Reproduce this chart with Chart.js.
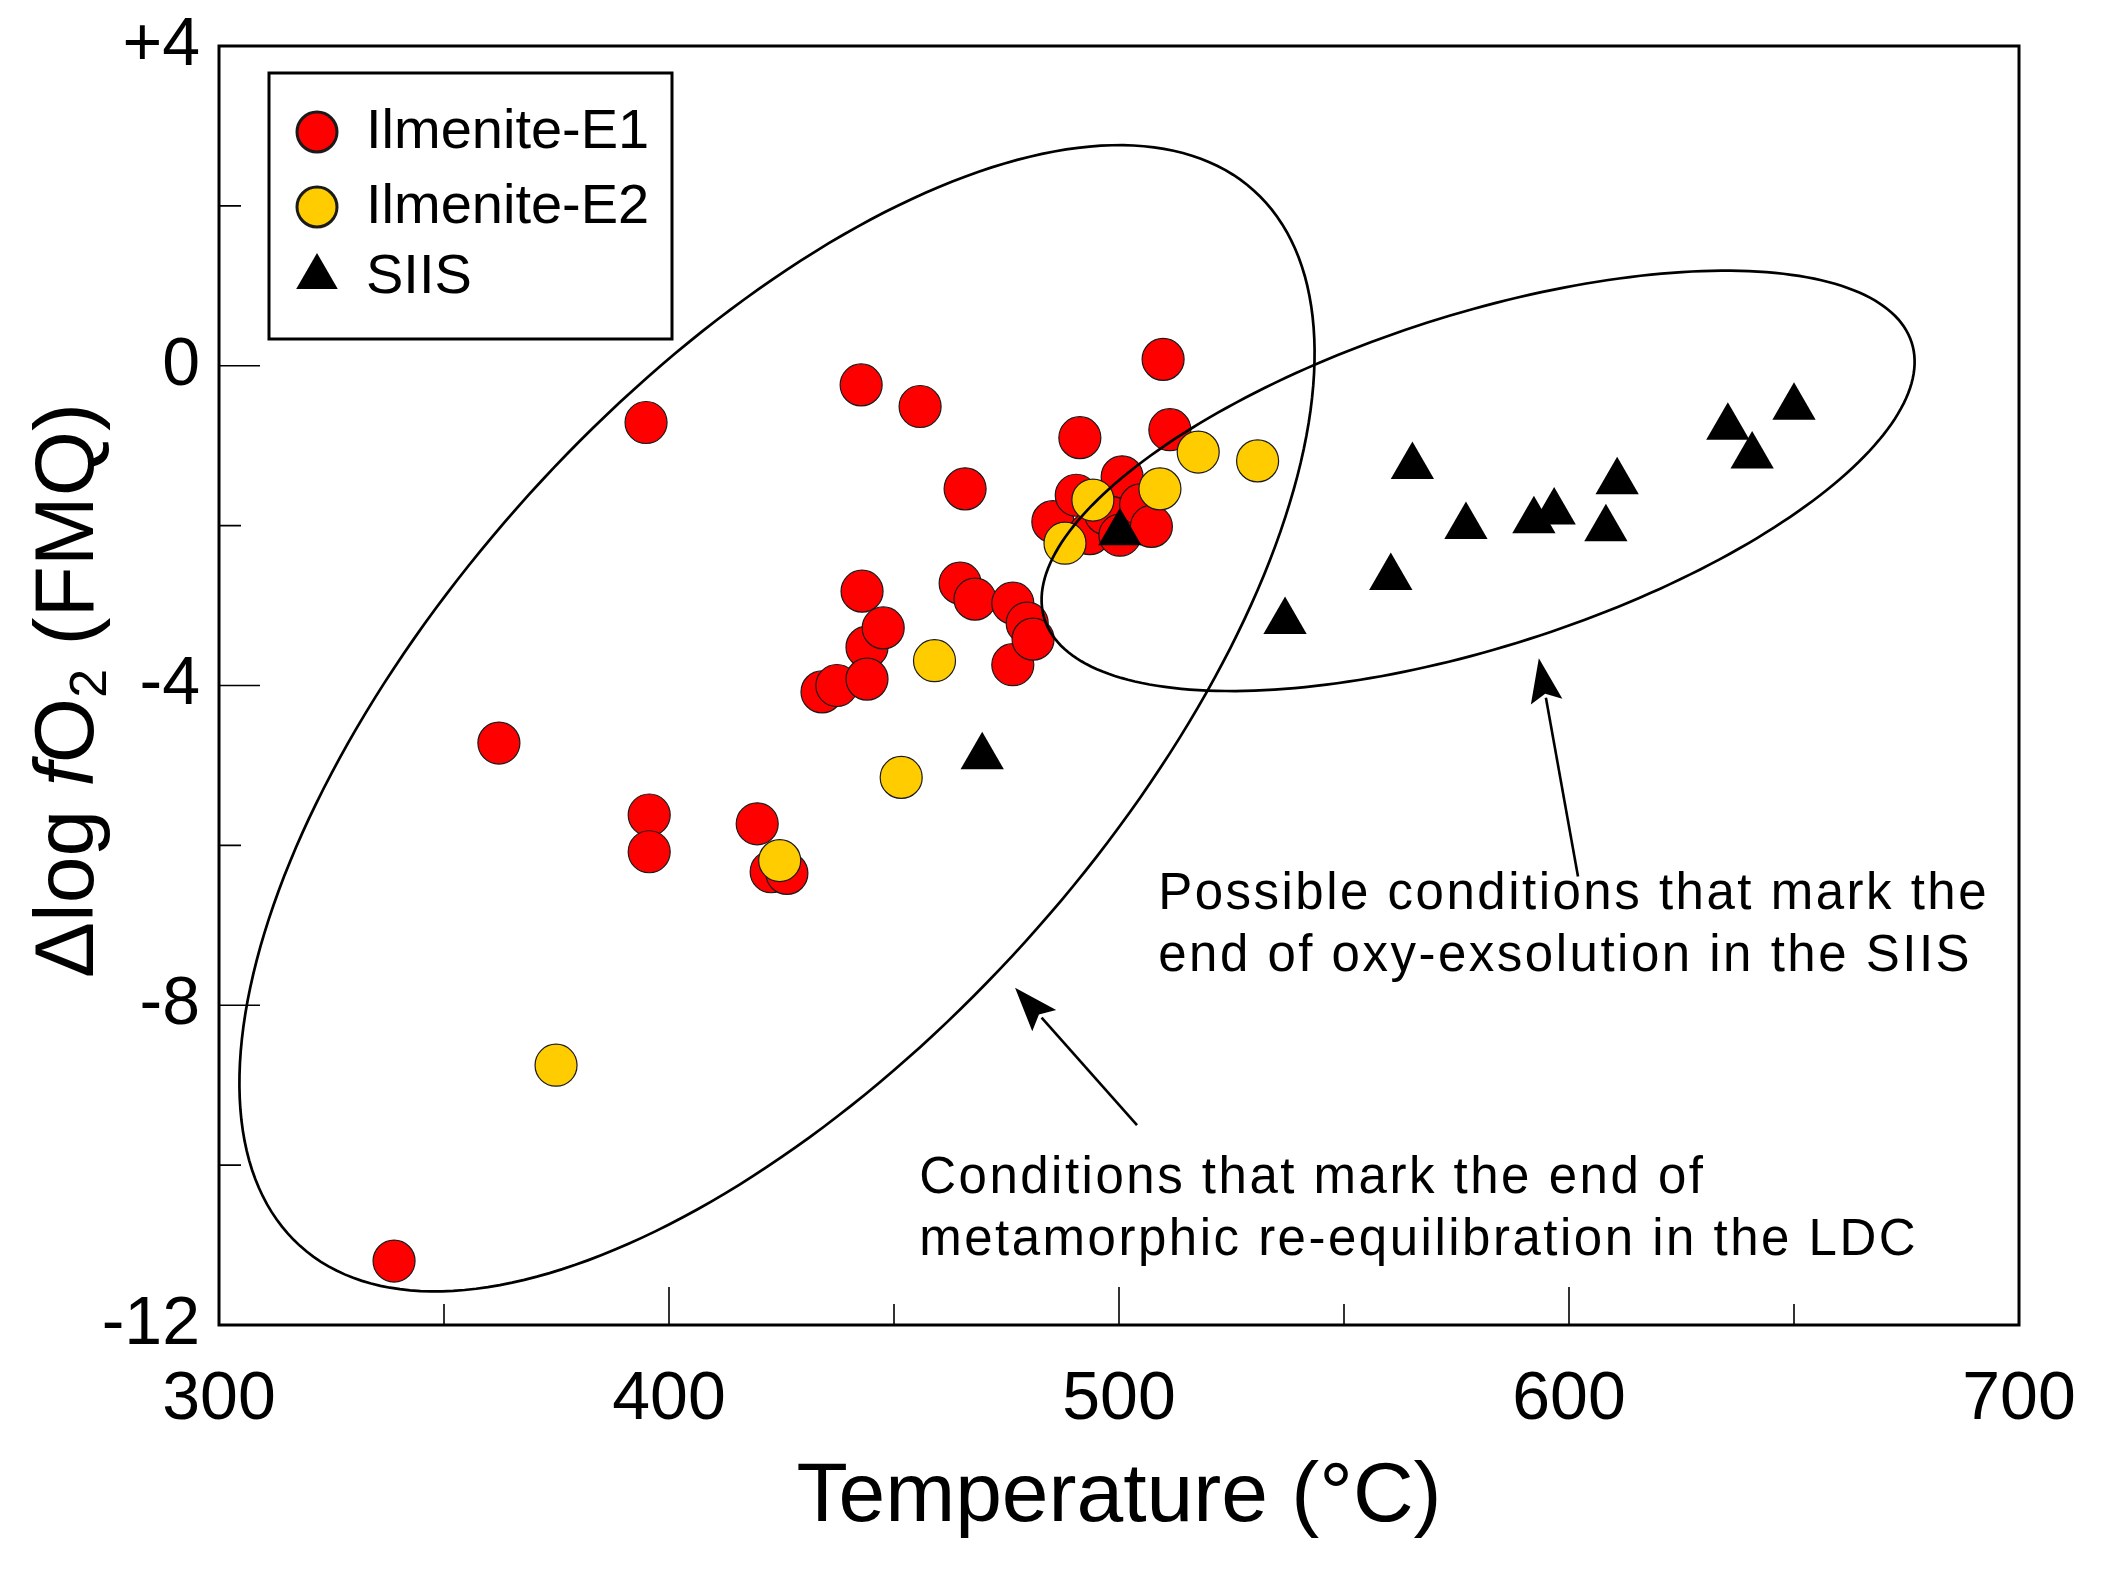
<!DOCTYPE html>
<html>
<head>
<meta charset="utf-8">
<script src="https://cdn.jsdelivr.net/npm/chart.js@4.4.1/dist/chart.umd.min.js"></script>
<style>
  html, body { margin: 0; padding: 0; background: #fff; }
  #wrap { width: 2104px; height: 1576px; }
</style>
</head>
<body>
<div id="wrap"><canvas id="fo2Graph"></canvas></div>
<script>

const seriesNames = ['Ilmenite-E1', 'Ilmenite-E2', 'SIIS'];

// Ilmenite-E1 : temperature (°C) / Δlog fO2 (FMQ)
const e1Temp = [338.9, 362.2, 394.9, 395.6, 395.6, 419.6, 422.7, 426.2, 434.0, 437.3,
                442.7, 442.9, 444.0, 444.0, 447.6, 455.8, 464.7, 465.8, 468.0, 476.4,
                476.4, 479.6, 480.9, 485.3, 490.5, 491.3, 493.5, 497.0, 500.2, 500.7,
                504.8, 507.2, 509.8, 511.3];
const e1Fo2 = [-11.2, -4.72, -0.71, -5.62, -6.08, -5.73, -6.33, -6.35, -4.08, -4.0,
               -0.24, -2.82, -3.52, -3.92, -3.28, -0.51, -2.72, -1.54, -2.92, -2.97,
               -3.74, -3.22, -3.42, -1.95, -1.62, -0.9, -2.1, -1.85, -2.12, -1.39,
               -1.74, -2.01, 0.08, -0.8];

// Ilmenite-E2
const e2Temp = [374.9, 424.6, 451.6, 459.0, 488.0, 494.2, 509.1, 517.6, 530.8];
const e2Fo2 = [-8.75, -6.19, -5.15, -3.69, -2.22, -1.68, -1.54, -1.08, -1.19];

// SIIS
const siisTemp = [469.6, 500.2, 536.9, 560.4, 565.2, 577.1, 592.2, 596.7, 608.2, 610.7, 635.3, 640.7, 650.0];
const siisFo2 = [-4.89, -2.09, -3.2, -2.65, -1.26, -2.01, -1.94, -1.83, -2.04, -1.45, -0.77, -1.13, -0.52];

const FONT = '"Liberation Sans", Arial, sans-serif';

function toPoints(xs, ys) {
    return xs.map((v, i) => ({x: v, y: ys[i]}));
}

// fields drawn as ellipses: centre + two semi-axis vectors, in data units
const fields = [
    {c: [424.0, -4.41], u: [106.0, 6.60], v: [55.1, -2.80]},
    {c: [579.8, -1.44], u: [96.35, 1.73], v: [11.25, -1.98]}
];

const notes = [
    {at: [508.7, -6.62], lines: ['Possible conditions that mark the', 'end of oxy-exsolution in the SIIS'],
     arrow: [[602.0, -6.39], [593.3, -3.66]]},
    {at: [455.6, -10.17], lines: ['Conditions that mark the end of', 'metamorphic re-equilibration in the LDC'],
     arrow: [[504.0, -9.5], [476.9, -7.78]]}
];

const overlay = {
    id: 'overlay',
    afterDatasetsDraw(chart) {
        const ctx = chart.ctx;
        const x = chart.scales.x, y = chart.scales.y;
        ctx.save();
        ctx.strokeStyle = '#000';
        ctx.lineWidth = 2.7;
        fields.forEach(e => {
            ctx.beginPath();
            for (let i = 0; i <= 240; i++) {
                const t = i / 240 * Math.PI * 2;
                const px = x.getPixelForValue(e.c[0] + Math.cos(t) * e.u[0] + Math.sin(t) * e.v[0]);
                const py = y.getPixelForValue(e.c[1] + Math.cos(t) * e.u[1] + Math.sin(t) * e.v[1]);
                if (i === 0) ctx.moveTo(px, py); else ctx.lineTo(px, py);
            }
            ctx.closePath();
            ctx.stroke();
        });

        // notes + arrows
        ctx.fillStyle = '#000';
        ctx.font = '51px ' + FONT;
        ctx.letterSpacing = '2.5px';
        ctx.textBaseline = 'middle';
        ctx.textAlign = 'left';
        notes.forEach(n => {
            const tx = x.getPixelForValue(n.at[0]);
            const ty = y.getPixelForValue(n.at[1]);
            n.lines.forEach((s, i) => ctx.fillText(s, tx, ty + i * 62));

            const x0 = x.getPixelForValue(n.arrow[0][0]), y0 = y.getPixelForValue(n.arrow[0][1]);
            const x1 = x.getPixelForValue(n.arrow[1][0]), y1 = y.getPixelForValue(n.arrow[1][1]);
            const ang = Math.atan2(y1 - y0, x1 - x0);
            const hl = 44, hw = 16;
            const bx = x1 - Math.cos(ang) * hl, by = y1 - Math.sin(ang) * hl;
            ctx.lineWidth = 2.6;
            ctx.beginPath();
            ctx.moveTo(x0, y0);
            ctx.lineTo(bx + Math.cos(ang) * 4, by + Math.sin(ang) * 4);
            ctx.stroke();
            ctx.beginPath();
            ctx.moveTo(x1, y1);
            ctx.lineTo(bx + Math.sin(ang) * hw, by - Math.cos(ang) * hw);
            ctx.lineTo(bx + Math.cos(ang) * 8, by + Math.sin(ang) * 8);
            ctx.lineTo(bx - Math.sin(ang) * hw, by + Math.cos(ang) * hw);
            ctx.closePath();
            ctx.fill();
        });
        ctx.letterSpacing = '0px';
        ctx.restore();
    },
    afterDraw(chart) {
        const ctx = chart.ctx;
        const a = chart.chartArea;
        const x = chart.scales.x, y = chart.scales.y;
        ctx.save();

        // frame
        ctx.strokeStyle = '#000';
        ctx.lineWidth = 3;
        ctx.strokeRect(a.left, a.top, a.right - a.left, a.bottom - a.top);

        // inward ticks
        ctx.lineWidth = 1.6;
        ctx.beginPath();
        x.ticks.forEach(t => {
            const px = x.getPixelForValue(t.value);
            const len = t.value % 100 === 0 ? 38 : 21;
            ctx.moveTo(px, a.bottom);
            ctx.lineTo(px, a.bottom - len);
        });
        y.ticks.forEach(t => {
            const py = y.getPixelForValue(t.value);
            const len = t.value % 4 === 0 ? 41 : 22;
            ctx.moveTo(a.left, py);
            ctx.lineTo(a.left + len, py);
        });
        ctx.stroke();

        // legend box
        const lx = a.left + 50, ly = a.top + 27;
        ctx.fillStyle = '#fff';
        ctx.fillRect(lx, ly, 403, 266);
        ctx.lineWidth = 3;
        ctx.strokeRect(lx, ly, 403, 266);
        const rowY = [59, 134, 204];
        ctx.font = '56px ' + FONT;
        ctx.textBaseline = 'middle';
        ctx.textAlign = 'left';
        chart.data.datasets.forEach((ds, i) => {
            const cy = ly + rowY[i];
            ctx.fillStyle = ds.backgroundColor;
            ctx.strokeStyle = ds.borderColor;
            Chart.helpers.drawPoint(ctx, {
                pointStyle: ds.pointStyle,
                radius: ds.pointStyle === 'triangle' ? 24 : 20,
                rotation: 0,
                borderWidth: ds.borderWidth
            }, lx + 48, cy);
            ctx.fillStyle = '#000';
            ctx.fillText(ds.label, lx + 97, cy + 1);
        });

        // y title: Δlog fO2 (FMQ)
        ctx.translate(70, (a.top + a.bottom) / 2 + 5);
        ctx.rotate(-Math.PI / 2);
        const big = '84px ' + FONT;
        const parts = [
            {t: '\u0394log ', f: big, dy: 0},
            {t: 'f', f: 'italic ' + big, dy: 0},
            {t: 'O', f: big, dy: 0},
            {t: '2', f: '52px ' + FONT, dy: 22},
            {t: ' (FMQ)', f: big, dy: 0}
        ];
        let total = 0;
        parts.forEach(p => { ctx.font = p.f; p.w = ctx.measureText(p.t).width; total += p.w; });
        let cx = -total / 2;
        ctx.fillStyle = '#000';
        ctx.textBaseline = 'middle';
        parts.forEach(p => {
            ctx.font = p.f;
            ctx.fillText(p.t, cx, p.dy);
            cx += p.w;
        });
        ctx.restore();
    }
};

const fo2Data = {
    datasets: [
        {
            label: seriesNames[0],
            data: toPoints(e1Temp, e1Fo2),
            backgroundColor: '#ff0000',
            borderColor: '#1a1a1a',
            borderWidth: 1.2,
            pointStyle: 'circle',
            pointRadius: 21,
            pointHoverRadius: 21,
            order: 2
        },
        {
            label: seriesNames[1],
            data: toPoints(e2Temp, e2Fo2),
            backgroundColor: '#ffcc00',
            borderColor: '#1a1a1a',
            borderWidth: 1.2,
            pointStyle: 'circle',
            pointRadius: 21,
            pointHoverRadius: 21,
            order: 1
        },
        {
            label: seriesNames[2],
            data: toPoints(siisTemp, siisFo2),
            backgroundColor: '#000000',
            borderColor: '#000000',
            borderWidth: 0,
            pointStyle: 'triangle',
            pointRadius: 25,
            pointHoverRadius: 25,
            order: 0
        }
    ]
};

const fo2Config = {
    type: 'scatter',
    data: fo2Data,
    options: {
        animation: false,
        responsive: true,
        maintainAspectRatio: false,
        devicePixelRatio: 1,
        layout: {padding: {top: 46, right: 85, left: 0, bottom: 0}},
        plugins: {
            legend: {display: false},
            tooltip: {enabled: false}
        },
        scales: {
            x: {
                type: 'linear',
                min: 300,
                max: 700,
                grid: {display: false, drawTicks: false},
                border: {display: false},
                ticks: {
                    stepSize: 50,
                    autoSkip: false,
                    maxRotation: 0,
                    padding: 34,
                    color: '#000',
                    font: {size: 68, family: FONT},
                    callback: v => (v % 100 === 0 ? String(v) : '')
                },
                title: {
                    display: true,
                    text: 'Temperature (\u00B0C)',
                    color: '#000',
                    font: {size: 84, family: FONT},
                    padding: {top: 0, bottom: 28}
                },
                afterFit: s => { s.height = 251; s.paddingLeft = 0; s.paddingRight = 0; }
            },
            y: {
                type: 'linear',
                min: -12,
                max: 4,
                grid: {display: false, drawTicks: false},
                border: {display: false},
                ticks: {
                    stepSize: 2,
                    autoSkip: false,
                    padding: 19,
                    color: '#000',
                    font: {size: 68, family: FONT},
                    callback: v => (v % 4 === 0 ? (v > 0 ? '+' + v : String(v)) : '')
                },
                afterFit: s => { s.width = 219; s.paddingTop = 0; s.paddingBottom = 0; }
            }
        }
    },
    plugins: [overlay]
};

const fo2Chart = new Chart(
    document.getElementById('fo2Graph'),
    fo2Config
);
</script>
</body>
</html>
